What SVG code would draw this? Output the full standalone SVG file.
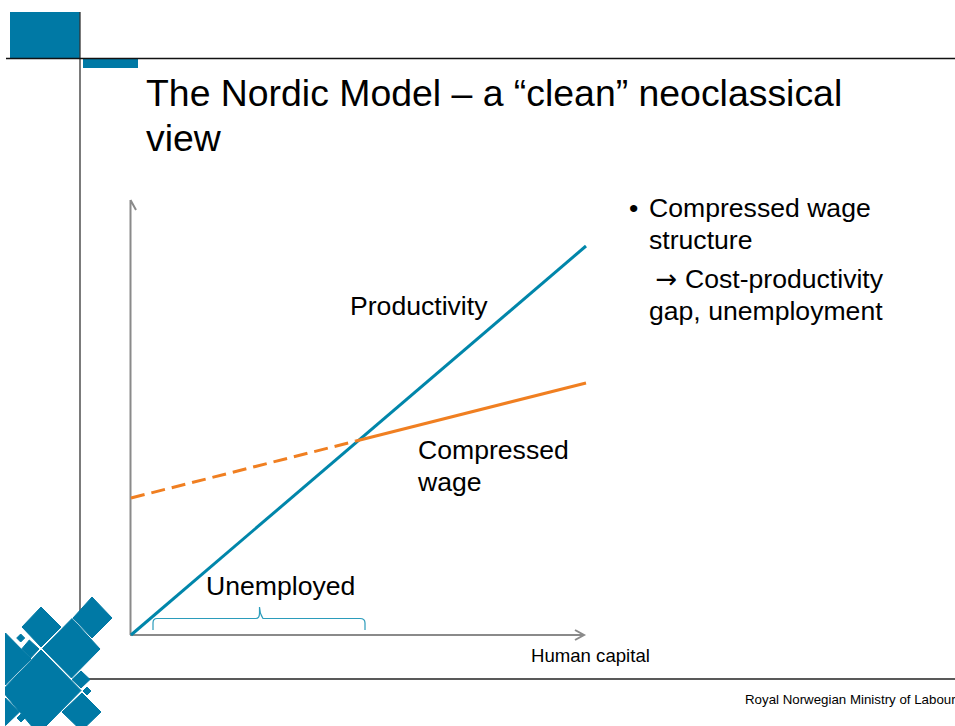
<svg xmlns="http://www.w3.org/2000/svg" width="955" height="726" viewBox="0 0 955 726">
<style>
text{font-family:"Liberation Sans",Arial,sans-serif;fill:#000}
.b{font-size:26.6px}
.t{font-size:37.4px}
.s{font-size:18.6px}
.f{font-size:13.3px}
.logo{fill:#0079a5}
#logo polygon{stroke:#0079a5;stroke-width:1}
.ax{fill:none;stroke:#8a8a8a;stroke-width:2}
</style>
<rect width="955" height="726" fill="#fff"/>
<g id="frame">
<rect class="logo" x="10" y="12" width="70" height="46"/>
<rect class="logo" x="83" y="59" width="55" height="9"/>
<path d="M80 12V614" fill="none" stroke="#333" stroke-width="1.300"/>
<path d="M6 58.500H955" stroke="#111" stroke-width="1.300"/>
<path d="M85 679H955" stroke="#222" stroke-width="1.300"/>
</g>
<g id="logo">
<polygon class="logo" points="92,597 112,618 92,638 73,618"/>
<polygon class="logo" points="41,607 61,627 41,647 22,627"/>
<polygon class="logo" points="72,618.500 100,649 71.500,678 42.500,648.500"/>
<polygon class="logo" points="41,650 81,690.500 46,726 31.500,726 5.500,695 5.500,687"/>
<polygon class="logo" points="5.500,633 31,659 5.500,685"/>
<polygon class="logo" points="20.700,634 24.700,638 20.700,642 16.700,638"/>
<polygon class="logo" points="29.300,640 39,649 30.700,658 21.700,649"/>
<polygon class="logo" points="81,671 90,679.500 81,688 72,679.500"/>
<polygon class="logo" points="87,687 91,691 87,695 83,691"/>
<polygon class="logo" points="82,693 101,712 87,725.500 76,725.500 62,712"/>
<polygon class="logo" points="5.500,698 19.500,712 5.500,725.500"/>
<polygon class="logo" points="21,714 25,718 21,722 17,718"/>
</g>
<g id="title"><text class="t" x="146" y="106">The Nordic Model – a “clean” neoclassical</text><text class="t" x="146" y="151">view</text></g>
<g id="connectors">
<path class="ax" d="M130.500 635V200M130.500 200L136 210"/>
<path class="ax" d="M130 635H584M575 630L584 635L575 640"/>
<path d="M131 635L586 246" fill="none" stroke="#0086aa" stroke-width="3"/>
<path d="M356 441L586 383" fill="none" stroke="#f07f21" stroke-width="3"/>
<path d="M131 498L356 441" fill="none" stroke="#f07f21" stroke-width="3" stroke-dasharray="14 7"/>
<path d="M153 630V623Q153 618.500 157 618.500H256Q259.500 618.500 259.500 613V607Q259.500 613 263 618.500H360Q365 618.500 365 623V630" fill="none" stroke="#2b9cbb" stroke-width="1.200"/>
</g>
<g id="labels">
<text class="b" x="350" y="315">Productivity</text>
<text class="b" x="418" y="459">Compressed</text>
<text class="b" x="418" y="491">wage</text>
<text class="b" x="206" y="595">Unemployed</text>
<text class="s" x="531" y="662">Human capital</text>
</g>
<g id="bullets">
<text class="b" x="629" y="217">•</text>
<text class="b" x="649" y="217">Compressed wage</text>
<text class="b" x="649" y="249">structure</text>
<text x="655.500" y="288" style="font-family:'DejaVu Sans',sans-serif;font-size:26px">→</text>
<text class="b" x="685" y="288">Cost-productivity</text>
<text class="b" x="649" y="320">gap, unemployment</text>
</g>
<g id="footer"><text class="f" x="745" y="704">Royal Norwegian Ministry of Labour</text></g>
</svg>
